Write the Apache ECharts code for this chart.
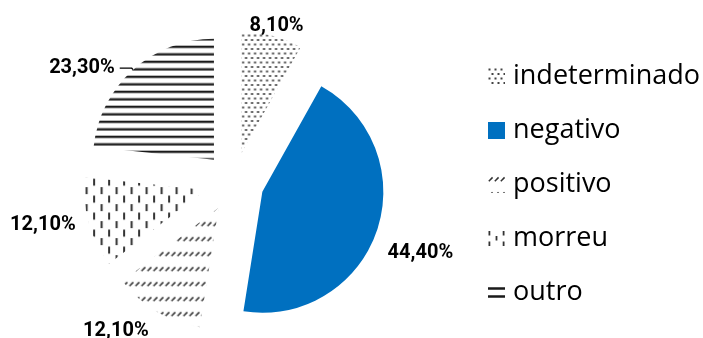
<!DOCTYPE html>
<html>
<head>
<meta charset="utf-8">
<script src="https://cdn.jsdelivr.net/npm/echarts@6/dist/echarts.min.js"></script>
<style>
  html, body { margin: 0; padding: 0; background: #fff; }
  #chart { width: 703px; height: 338px; }
</style>
</head>
<body>
<div id="chart"></div>
<script>
// Outcome categories and their share of cases (percent)
const categories = ['indeterminado', 'negativo', 'positivo', 'morreu', 'outro'];
const shares = [8.1, 44.4, 12.1, 12.1, 23.3];

// Small nudges for the outside value labels, in pixels
const labelNudge = [[-40, -8], [-8, 21], [10, 18], [6, 2], null];

// Small repeating tiles used as hatch fills
function tile(w, h, draw) {
  const c = document.createElement('canvas');
  c.width = w; c.height = h;
  const g = c.getContext('2d');
  g.fillStyle = '#fff';
  g.fillRect(0, 0, w, h);
  draw(g);
  return { image: c, repeat: 'repeat' };
}

const fills = [
  // dotted
  tile(6, 9, g => {
    g.fillStyle = '#444';
    g.fillRect(0.5, 0.5, 2, 2);
    g.fillRect(3.5, 5, 2, 2);
  }),
  // solid blue
  '#0070C0',
  // dashed upward diagonal
  tile(6, 15, g => {
    g.strokeStyle = '#333';
    g.lineWidth = 1.5;
    g.beginPath();
    g.moveTo(0.8, 5.2);
    g.lineTo(4.6, 1.4);
    g.stroke();
  }),
  // dashed vertical
  tile(15, 17, g => {
    g.fillStyle = '#333';
    g.fillRect(2, 0.5, 2, 7);
    g.fillRect(9.5, 9, 2, 7);
  }),
  // horizontal lines
  tile(4, 15, g => {
    g.fillStyle = '#1a1a1a';
    g.fillRect(0, 0.5, 4, 2.3);
    g.fillRect(0, 8, 4, 2.3);
  })
];

// Legend swatches drawn as small glyphs for the two line hatches
// (the corner moves keep each glyph's box at the full swatch size)
const legendIcons = {
  morreu: 'path://M0,0L0,0M17,17L17,17' +
    'M0.5,1H2.3V5.5H0.5Z M0.5,11.5H2.3V16H0.5Z' +
    'M7.6,6H9.4V10.5H7.6Z' +
    'M14.7,1H16.5V5.5H14.7Z M14.7,11.5H16.5V16H14.7Z',
  outro: 'path://M0,0L0,0M17,17L17,17' +
    'M0,3.2H17V5.7H0Z M0,11.3H17V13.8H0Z'
};

const pieData = categories.map((name, i) => ({
  name,
  value: shares[i],
  selected: true,
  itemStyle: { color: fills[i] },
  labelLine: { show: name === 'outro' }
}));

const legendData = categories.map(name => legendIcons[name]
  ? { name, icon: legendIcons[name], itemStyle: { color: name === 'outro' ? '#1a1a1a' : '#333' } }
  : { name });

const chart = echarts.init(document.getElementById('chart'), null, { renderer: 'canvas' });
chart.setOption({
  animation: false,
  backgroundColor: '#fff',
  legend: {
    orient: 'vertical',
    left: 483,
    top: 58,
    itemWidth: 17,
    itemHeight: 17,
    itemGap: 27,
    icon: 'rect',
    selectedMode: false,
    data: legendData,
    textStyle: {
      fontFamily: 'Open Sans',
      fontSize: 27,
      lineHeight: 27,
      color: '#000',
      padding: [0, 0, 0, 3]
    }
  },
  series: [{
    type: 'pie',
    center: [234, 182],
    radius: 121,
    startAngle: 90,
    clockwise: true,
    selectedMode: 'multiple',
    selectedOffset: 30,
    avoidLabelOverlap: false,
    silent: true,
    itemStyle: { borderWidth: 0 },
    label: {
      show: true,
      position: 'outside',
      fontFamily: 'Roboto',
      fontWeight: 'bold',
      fontSize: 20,
      color: '#000',
      formatter: p => p.value.toFixed(2).replace('.', ',') + '%'
    },
    labelLine: {
      length: 2,
      length2: 12,
      lineStyle: { color: '#000', width: 1.3 }
    },
    labelLayout: p => {
      const n = labelNudge[p.dataIndex];
      return n ? { dx: n[0], dy: n[1] } : {};
    },
    emphasis: { disabled: true },
    data: pieData
  }]
});
</script>
</body>
</html>
